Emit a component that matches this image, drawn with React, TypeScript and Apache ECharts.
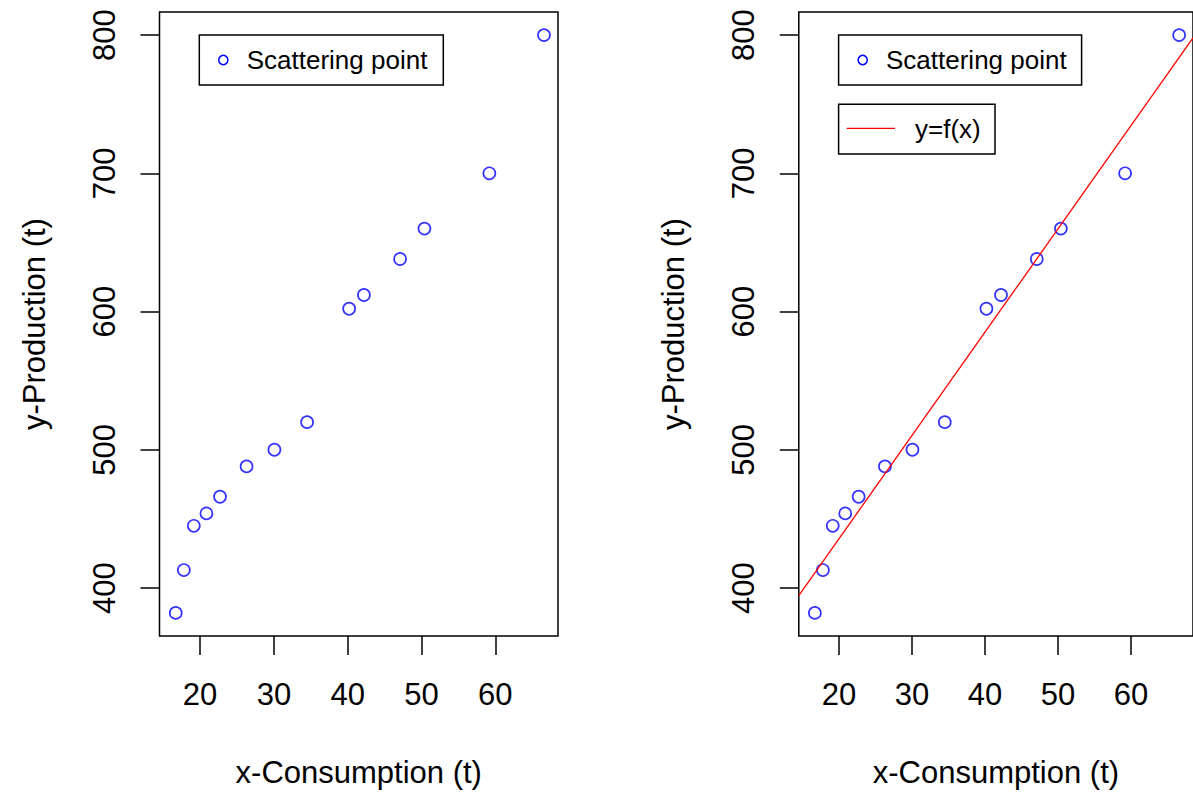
import React, { useEffect, useRef } from "react";
import * as echarts from "echarts";

// ---- data ----
const consumption = [16.7, 17.8, 19.15, 20.86, 22.7, 26.3, 30.07, 34.5, 40.2, 42.2, 47.1, 50.4, 59.2, 66.6];
const production = [382, 413, 445, 454, 466, 488, 500, 520, 602, 612, 638, 660, 700, 800];
const xTicks = [20, 30, 40, 50, 60];
const yTicks = [400, 500, 600, 700, 800];
const xRange = [14.5, 68.5];
const yRange = [365.3, 816.7];
// fitted line y = f(x), end points at the axis limits
const fitX = [14.5, 68.5];
const fitY = [394.5, 798];
const xTitle = "x-Consumption (t)";
const yTitle = "y-Production (t)";
const scatterName = "Scattering point";
const fitName = "y=f(x)";

const FONT = "'Liberation Sans', Arial, Helvetica, sans-serif";
const BLUE = "#0000ff";
const RED = "#ff0000";

export default function App() {
  const ref = useRef<HTMLDivElement>(null);

  useEffect(() => {
    if (!ref.current) return;
    const chart = echarts.init(ref.current, undefined, { renderer: "svg" });

    const points = consumption.map((x, i) => [x, production[i]]);
    const fitLine = fitX.map((x, i) => [x, fitY[i]]);

    const gridBase = {
      top: 12,
      width: 398.5,
      height: 624,
      show: true,
      borderColor: "#000",
      borderWidth: 1.5,
      backgroundColor: "transparent",
      containLabel: false,
    };

    const makeX = (gridIndex: number) => ({
      type: "value",
      gridIndex,
      min: xRange[0],
      max: xRange[1],
      name: xTitle,
      nameLocation: "middle",
      nameGap: 121,
      nameTextStyle: { fontFamily: FONT, fontSize: 31, color: "#000" },
      axisLine: { show: false },
      axisTick: {
        show: true,
        length: 19,
        lineStyle: { color: "#000", width: 1.5 },
        customValues: xTicks,
      },
      axisLabel: {
        customValues: xTicks,
        margin: 43,
        fontFamily: FONT,
        fontSize: 31,
        color: "#000",
      },
      splitLine: { show: false },
    });

    const makeY = (gridIndex: number) => ({
      type: "value",
      gridIndex,
      min: yRange[0],
      max: yRange[1],
      name: yTitle,
      nameLocation: "middle",
      nameRotate: 90,
      nameGap: 110,
      nameTextStyle: { fontFamily: FONT, fontSize: 31, color: "#000" },
      axisLine: { show: false },
      axisTick: {
        show: true,
        length: 19,
        lineStyle: { color: "#000", width: 1.5 },
        customValues: yTicks,
      },
      axisLabel: {
        customValues: yTicks,
        rotate: 90,
        margin: 40,
        fontFamily: FONT,
        fontSize: 31,
        color: "#000",
      },
      splitLine: { show: false },
    });

    const scatterStyle = {
      type: "scatter",
      name: scatterName,
      symbol: "circle",
      symbolSize: 12,
      itemStyle: { color: "rgba(0,0,0,0)", borderColor: BLUE, borderWidth: 1.7 },
      silent: true,
      emphasis: { disabled: true },
      data: points,
    };

    const legendFont = { fontFamily: FONT, fontSize: 26, fill: "#000" };

    const option: any = {
      animation: false,
      backgroundColor: "#fff",
      grid: [
        { ...gridBase, left: 159.5 },
        { ...gridBase, left: 798.8 },
      ],
      xAxis: [makeX(0), makeX(1)],
      yAxis: [makeY(0), makeY(1)],
      series: [
        { ...scatterStyle, xAxisIndex: 0, yAxisIndex: 0 },
        { ...scatterStyle, xAxisIndex: 1, yAxisIndex: 1 },
        {
          type: "line",
          name: fitName,
          xAxisIndex: 1,
          yAxisIndex: 1,
          data: fitLine,
          showSymbol: false,
          symbol: "none",
          lineStyle: { color: RED, width: 1.3 },
          silent: true,
          emphasis: { disabled: true },
          z: 5,
        },
      ],
      graphic: [
        // left legend
        {
          type: "rect",
          shape: { x: 199.3, y: 35, width: 244, height: 50 },
          style: { fill: "#fff", stroke: "#000", lineWidth: 1.5 },
          z: 10,
        },
        {
          type: "circle",
          shape: { cx: 223.3, cy: 60, r: 4.6 },
          style: { fill: "none", stroke: BLUE, lineWidth: 1.5 },
          z: 11,
        },
        {
          type: "text",
          x: 246.7,
          y: 60,
          style: { ...legendFont, text: scatterName, verticalAlign: "middle", align: "left" },
          z: 11,
        },
        // right legend: scatter
        {
          type: "rect",
          shape: { x: 838.6, y: 35, width: 243, height: 50 },
          style: { fill: "#fff", stroke: "#000", lineWidth: 1.5 },
          z: 10,
        },
        {
          type: "circle",
          shape: { cx: 862.7, cy: 60, r: 4.6 },
          style: { fill: "none", stroke: BLUE, lineWidth: 1.5 },
          z: 11,
        },
        {
          type: "text",
          x: 886,
          y: 60,
          style: { ...legendFont, text: scatterName, verticalAlign: "middle", align: "left" },
          z: 11,
        },
        // right legend: fitted line
        {
          type: "rect",
          shape: { x: 838.6, y: 104.3, width: 156.4, height: 49.7 },
          style: { fill: "#fff", stroke: "#000", lineWidth: 1.5 },
          z: 10,
        },
        {
          type: "line",
          shape: { x1: 846.7, y1: 128.3, x2: 895, y2: 128.3 },
          style: { stroke: RED, lineWidth: 1.3 },
          z: 11,
        },
        {
          type: "text",
          x: 915,
          y: 129,
          style: { ...legendFont, text: fitName, verticalAlign: "middle", align: "left" },
          z: 11,
        },
      ],
    };

    chart.setOption(option);
    return () => chart.dispose();
  }, []);

  return (
    <div
      ref={ref}
      style={{
        position: "fixed",
        left: 0,
        top: 0,
        width: 1193,
        height: 793,
        background: "#fff",
        overflow: "hidden",
      }}
    />
  );
}
